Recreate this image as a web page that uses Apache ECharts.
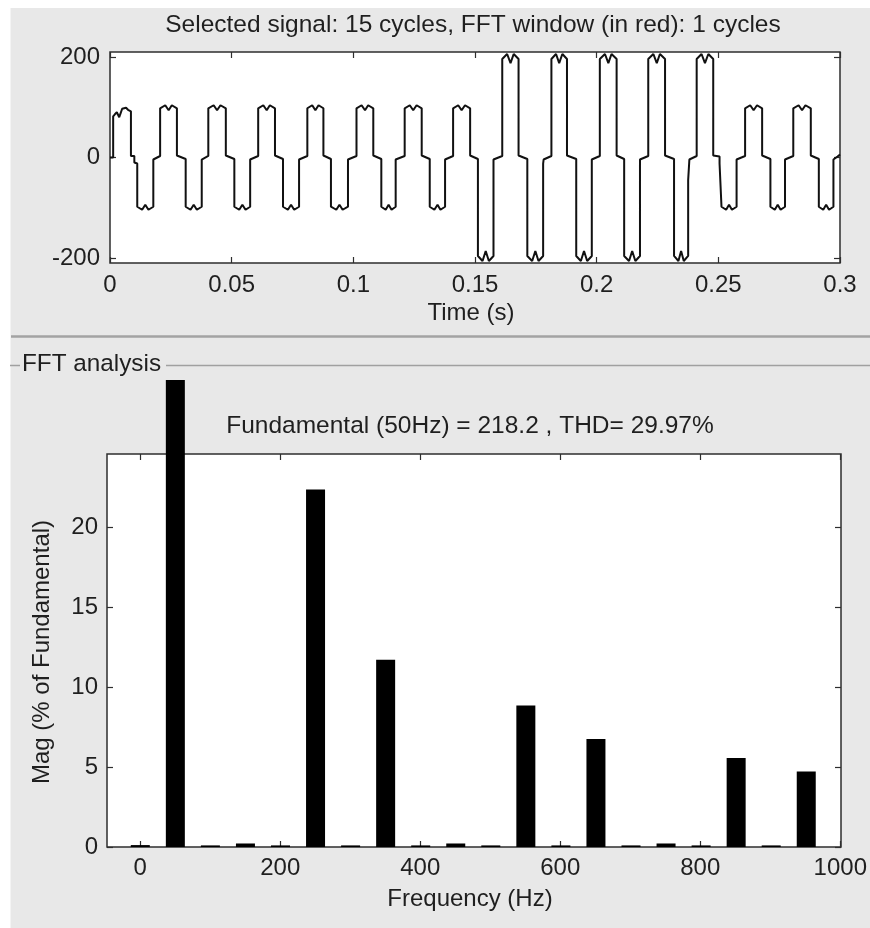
<!DOCTYPE html>
<html>
<head>
<meta charset="utf-8">
<script src="https://cdn.jsdelivr.net/npm/echarts@6/dist/echarts.min.js"></script>
<style>
html,body{margin:0;padding:0;background:#fff;}
#chart{width:870px;height:928px;}
</style>
</head>
<body>
<div id="chart"></div>
<script>
// ---------- DATA ----------
const titleText = 'Selected signal: 15 cycles, FFT window (in red): 1 cycles';
const timeLabel = 'Time (s)';
const fftPanelLabel = 'FFT analysis';
const fftInfoText = 'Fundamental (50Hz) = 218.2 , THD= 29.97%';
const freqLabel = 'Frequency (Hz)';
const magLabel = 'Mag (% of Fundamental)';

const timeTicks = [0, 0.05, 0.1, 0.15, 0.2, 0.25, 0.3];
const signalTicks = [-200, 0, 200];
const freqTicks = [0, 200, 400, 600, 800, 1000];
const magTicks = [0, 5, 10, 15, 20];

// signal waveform [time (s), value]
const signal = [
  [0,0],[0.0013,0],[0.0013,82],[0.0020,86],[0.0028,90],[0.0034,93],[0.0038,80],[0.0042,86],[0.0050,97],[0.0058,100],[0.0066,99],[0.0074,95],[0.0082,93],[0.0086,92],[0.0086,3],[0.0100,3],[0.0100,-10],[0.0112,-12],[0.0112,-98],
  [0.0132,-104],[0.0145,-94],[0.0158,-104],[0.0178,-98],[0.0178,-4],[0.0206,3],
  [0.0206,98],[0.0227,104],[0.0241,94],[0.0254,104],[0.0275,98],[0.0275,4],[0.0311,-3],[0.0311,-98],[0.0331,-104],[0.0344,-94],[0.0357,-104],[0.0377,-98],[0.0377,-4],[0.0404,3],
  [0.0404,98],[0.0426,104],[0.0440,94],[0.0454,104],[0.0476,98],[0.0476,4],[0.0511,-3],[0.0511,-98],[0.0531,-104],[0.0544,-94],[0.0557,-104],[0.0576,-98],[0.0576,-4],[0.0609,3],
  [0.0609,98],[0.0630,104],[0.0644,94],[0.0657,104],[0.0678,98],[0.0678,4],[0.0711,-3],[0.0711,-98],[0.0731,-104],[0.0744,-94],[0.0757,-104],[0.0777,-98],[0.0777,-4],[0.0811,3],
  [0.0811,98],[0.0831,104],[0.0844,94],[0.0857,104],[0.0877,98],[0.0877,4],[0.0908,-3],[0.0908,-98],[0.0930,-104],[0.0943,-94],[0.0956,-104],[0.0978,-98],[0.0978,-4],[0.1013,3],
  [0.1013,98],[0.1034,104],[0.1048,94],[0.1061,104],[0.1082,98],[0.1082,4],[0.1115,-3],[0.1115,-98],[0.1133,-104],[0.1145,-94],[0.1157,-104],[0.1174,-98],[0.1174,-4],[0.1211,3],
  [0.1211,98],[0.1232,104],[0.1246,94],[0.1260,104],[0.1281,98],[0.1281,4],[0.1314,-3],[0.1314,-98],[0.1333,-104],[0.1346,-94],[0.1358,-104],[0.1377,-98],[0.1377,-4],[0.1410,3],
  [0.1410,98],[0.1431,104],[0.1445,94],[0.1459,104],[0.1480,98],[0.1480,4],[0.1512,-3],[0.1512,-196],[0.1531,-206],[0.1544,-186],[0.1557,-206],[0.1576,-196],[0.1576,-4],[0.1612,3],
  [0.1612,196],[0.1632,206],[0.1646,188],[0.1659,206],[0.1679,196],[0.1679,4],[0.1715,-3],[0.1715,-196],[0.1735,-206],[0.1748,-186],[0.1761,-206],[0.1780,-196],[0.1780,-12],[0.1782,-12],[0.1782,-4],[0.1814,3],
  [0.1814,196],[0.1833,206],[0.1846,188],[0.1859,206],[0.1878,196],[0.1878,4],[0.1916,-3],[0.1916,-196],[0.1935,-206],[0.1948,-186],[0.1961,-206],[0.1980,-196],[0.1980,-4],[0.2013,3],
  [0.2013,196],[0.2034,206],[0.2048,188],[0.2061,206],[0.2082,196],[0.2082,4],[0.2113,-3],[0.2113,-196],[0.2133,-206],[0.2146,-186],[0.2159,-206],[0.2178,-196],[0.2178,-4],[0.2212,3],
  [0.2212,196],[0.2233,206],[0.2247,188],[0.2260,206],[0.2281,196],[0.2281,4],[0.2318,-3],[0.2318,-196],[0.2336,-206],[0.2347,-186],[0.2358,-206],[0.2376,-196],[0.2376,-45],[0.2381,-45],[0.2381,-4],[0.2411,3],
  [0.2411,196],[0.2431,206],[0.2445,188],[0.2459,206],[0.2479,196],[0.2479,4],[0.2505,2],[0.2505,-12],[0.2513,-12],[0.2513,-98],[0.2532,-104],[0.2544,-94],[0.2556,-104],[0.2575,-98],[0.2575,-4],[0.2610,3],
  [0.2610,98],[0.2631,104],[0.2645,94],[0.2659,104],[0.2680,98],[0.2680,4],[0.2714,-3],[0.2714,-98],[0.2732,-104],[0.2744,-94],[0.2756,-104],[0.2774,-98],[0.2774,-4],[0.2808,3],
  [0.2808,98],[0.2830,104],[0.2844,94],[0.2858,104],[0.2880,98],[0.2880,4],[0.2913,-3],[0.2913,-98],[0.2931,-104],[0.2943,-94],[0.2955,-104],[0.2973,-98],[0.2973,-4],[0.2990,2],[0.3000,6]
];

// FFT spectrum: harmonic frequency (Hz) and magnitude (% of fundamental)
const fftFreq = [0, 50, 100, 150, 200, 250, 300, 350, 400, 450, 500, 550, 600, 650, 700, 750, 800, 850, 900, 950];
const fftMag  = [0.12, 100, 0.1, 0.22, 0.1, 22.37, 0.1, 11.72, 0.1, 0.22, 0.1, 8.85, 0.1, 6.75, 0.1, 0.22, 0.1, 5.57, 0.1, 4.72];

// ---------- CHART ----------
const FONT = "'Liberation Sans', Arial, Helvetica, sans-serif";
const TXT = '#1f1f1f';
const AX = '#2e2e2e';
const chart = echarts.init(document.getElementById('chart'), null, {renderer: 'canvas'});

const fmtNum = v => String(+(+v).toFixed(2));
const noLine = {show: false, onZero: false};

const tickIn = (vals) => ({show: true, inside: true, length: 6, lineStyle: {color: AX, width: 1.2}, customValues: vals});
const labelOf = (vals, extra) => Object.assign({show: true, fontSize: 24, color: TXT, fontFamily: FONT, customValues: vals, formatter: fmtNum}, extra || {});

const option = {
  backgroundColor: '#e8e8e8',
  animation: false,
  grid: [
    {left: 110, top: 52, width: 730, height: 211, show: true, backgroundColor: '#ffffff', borderColor: AX, borderWidth: 1.5},
    {left: 107, top: 454, width: 735, height: 393, show: true, backgroundColor: '#ffffff', borderColor: AX, borderWidth: 1.5},
    {left: 107, top: 380, width: 735, height: 467, show: false}
  ],
  xAxis: [
    {gridIndex: 0, type: 'value', position: 'bottom', min: 0, max: 0.3,
      axisLine: noLine, splitLine: {show: false},
      axisTick: tickIn(timeTicks), axisLabel: labelOf(timeTicks, {margin: 10})},
    {gridIndex: 0, type: 'value', position: 'top', min: 0, max: 0.3,
      axisLine: noLine, splitLine: {show: false},
      axisTick: tickIn(timeTicks), axisLabel: {show: false}},
    {gridIndex: 1, type: 'value', position: 'bottom', min: -47.5, max: 1001,
      axisLine: noLine, splitLine: {show: false},
      axisTick: tickIn(freqTicks), axisLabel: labelOf(freqTicks, {margin: 9})},
    {gridIndex: 1, type: 'value', position: 'top', min: -47.5, max: 1001,
      axisLine: noLine, splitLine: {show: false},
      axisTick: tickIn(freqTicks), axisLabel: {show: false}},
    {gridIndex: 2, type: 'value', min: -47.5, max: 1001, show: false, axisLine: noLine}
  ],
  yAxis: [
    {gridIndex: 0, type: 'value', position: 'left', min: -210, max: 210,
      axisLine: noLine, splitLine: {show: false},
      axisTick: tickIn(signalTicks), axisLabel: labelOf(signalTicks, {margin: 10})},
    {gridIndex: 0, type: 'value', position: 'right', min: -210, max: 210,
      axisLine: noLine, splitLine: {show: false},
      axisTick: tickIn(signalTicks), axisLabel: {show: false}},
    {gridIndex: 1, type: 'value', position: 'left', min: 0, max: 24.6,
      axisLine: noLine, splitLine: {show: false},
      axisTick: tickIn(magTicks), axisLabel: labelOf(magTicks, {margin: 9})},
    {gridIndex: 1, type: 'value', position: 'right', min: 0, max: 24.6,
      axisLine: noLine, splitLine: {show: false},
      axisTick: tickIn(magTicks), axisLabel: {show: false}},
    {gridIndex: 2, type: 'value', min: 0, max: 29.22, show: false, axisLine: noLine}
  ],
  series: [
    {type: 'line', xAxisIndex: 0, yAxisIndex: 0, data: signal, showSymbol: false, symbol: 'none',
      clip: true, lineStyle: {color: '#111111', width: 2}, z: 3},
    {type: 'bar', xAxisIndex: 4, yAxisIndex: 4, data: fftFreq.map((f, i) => [f, fftMag[i]]),
      barWidth: 19, clip: true, itemStyle: {color: '#000000'}, z: 5}
  ],
  graphic: [
    {type: 'rect', shape: {x: 0, y: 0, width: 870, height: 8}, style: {fill: '#ffffff'}, silent: true},
    {type: 'rect', shape: {x: 0, y: 0, width: 10.5, height: 928}, style: {fill: '#ffffff'}, silent: true},
    {type: 'line', shape: {x1: 11, y1: 336.5, x2: 870, y2: 336.5}, style: {stroke: '#a3a3a3', lineWidth: 2.5}, silent: true},
    {type: 'line', shape: {x1: 10, y1: 365.5, x2: 20, y2: 365.5}, style: {stroke: '#a0a0a0', lineWidth: 1.5}, silent: true},
    {type: 'line', shape: {x1: 166, y1: 365.5, x2: 870, y2: 365.5}, style: {stroke: '#a0a0a0', lineWidth: 1.5}, silent: true},
    {type: 'text', x: 473, y: 25, style: {text: titleText, fill: TXT, font: '24.5px ' + FONT, textAlign: 'center', textVerticalAlign: 'middle'}},
    {type: 'text', x: 471, y: 313, style: {text: timeLabel, fill: TXT, font: '24px ' + FONT, textAlign: 'center', textVerticalAlign: 'middle'}},
    {type: 'text', x: 22, y: 364, style: {text: fftPanelLabel, fill: TXT, font: '24.3px ' + FONT, textAlign: 'left', textVerticalAlign: 'middle'}},
    {type: 'text', x: 470, y: 426, style: {text: fftInfoText, fill: TXT, font: '24.5px ' + FONT, textAlign: 'center', textVerticalAlign: 'middle'}},
    {type: 'text', x: 470, y: 899, style: {text: freqLabel, fill: TXT, font: '24px ' + FONT, textAlign: 'center', textVerticalAlign: 'middle'}},
    {type: 'text', x: 42, y: 652, rotation: Math.PI / 2, style: {text: magLabel, fill: TXT, font: '24px ' + FONT, textAlign: 'center', textVerticalAlign: 'middle'}}
  ]
};
chart.setOption(option);
</script>
</body>
</html>
